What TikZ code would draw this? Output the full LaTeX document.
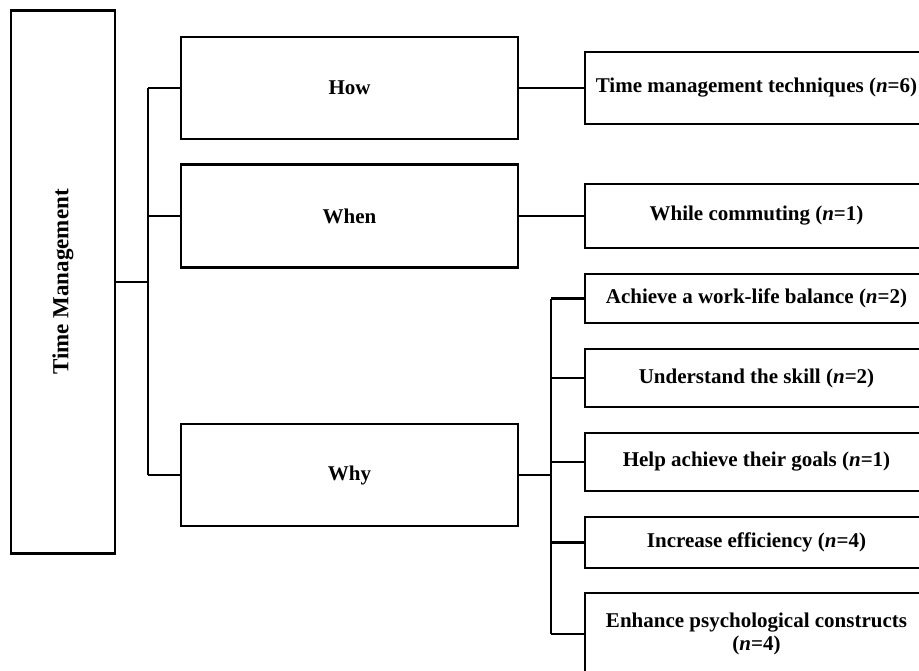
\documentclass[tikz,border=0pt]{standalone}
\usepackage{fontspec}
\setmainfont{Liberation Serif}
\begin{document}
\begin{tikzpicture}[x=1pt,y=-1pt,
  box/.style={draw=black,line width=2.4pt,rectangle,inner sep=0pt,align=center,
    font=\fontsize{21}{23}\selectfont\bfseries},
  link/.style={draw=black,line width=2.4pt}]
\useasboundingbox (0,0) rectangle (919,670);

% root
\node[box,minimum width=104,minimum height=543,font=\fontsize{23}{23}\selectfont\bfseries]
  (tm) at (63,282) {\rotatebox{90}{Time Management}};

% second level
\node[box,minimum width=337,minimum height=102] (how)  at (349.5,88)  {How};
\node[box,minimum width=337,minimum height=103] (when) at (349.5,216) {When};
\node[box,minimum width=337,minimum height=102] (why)  at (349.5,475) {Why};

% third level
\node[box,minimum width=343,minimum height=72] (tech) at (756.5,88) {Time management techniques (\textit{n}=6)};
\node[box,minimum width=343,minimum height=64] (comm) at (756.5,216) {While commuting (\textit{n}=1)};
\node[box,minimum width=343,minimum height=49] (bal)  at (756.5,298.5) {Achieve a work-life balance (\textit{n}=2)};
\node[box,minimum width=343,minimum height=58] (skill) at (756.5,378) {Understand the skill (\textit{n}=2)};
\node[box,minimum width=343,minimum height=58] (goal) at (756.5,462) {Help achieve their goals (\textit{n}=1)};
\node[box,minimum width=343,minimum height=51] (eff)  at (756.5,542.5) {Increase efficiency (\textit{n}=4)};
\node[box,minimum width=343,minimum height=82] (psy)  at (756.5,634) {Enhance psychological constructs\\(\textit{n}=4)};

% junction points
\coordinate (j1) at (148,282);
\coordinate (j2) at (551,475);

% root to second level
\draw[link] (tm.east) -- (tm.east -| j1);
\draw[link] (j1 |- how) -- (j1 |- why);
\draw[link] (j1 |- how) -- (how.west);
\draw[link] (j1 |- when) -- (when.west);
\draw[link] (j1 |- why) -- (why.west);

% second to third level
\draw[link] (how.east) -- (tech.west);
\draw[link] (when.east) -- (comm.west);
\draw[link] (why.east) -- (why.east -| j2);
\draw[link] (j2 |- bal) -- (j2 |- psy);
\foreach \n in {bal,skill,goal,eff,psy}
  \draw[link] (j2 |- \n) -- (\n.west);
\end{tikzpicture}
\end{document}
